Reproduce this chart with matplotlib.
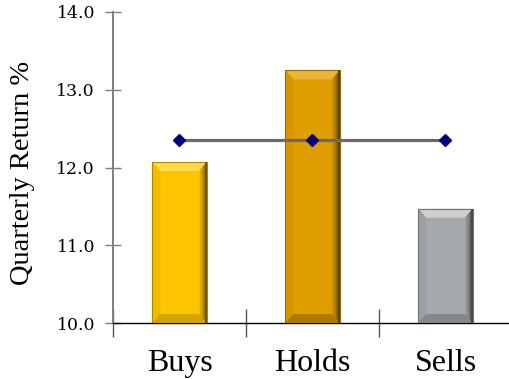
import numpy as np
import matplotlib.pyplot as plt
from matplotlib.patches import Polygon
from matplotlib.colors import to_rgb

# quarterly returns by recommendation group
groups = ["Buys", "Holds", "Sells"]
returns = [12.07, 13.25, 11.47]
average = [12.36, 12.36, 12.36]

y_ticks = [10.0, 11.0, 12.0, 13.0, 14.0]

# face colour, top, left, bottom, right-edge shade
bar_colors = [
    ("#FCC500", "#FDDC48", "#F2BC00", "#D4A400", "#6E5408"),
    ("#DF9D00", "#EAB43A", "#D69600", "#B07A00", "#5E4206"),
    ("#A6A9AC", "#CDCFD1", "#9DA0A3", "#85888B", "#45484B"),
]

W, H, DPI = 5.10, 3.79, 100
fig = plt.figure(figsize=(W, H), dpi=DPI)
ax_l, ax_b, ax_w, ax_h = 113, 56, 399, 311
ax = fig.add_axes([ax_l / 510, ax_b / 379, ax_w / 510, ax_h / 379])

x = np.arange(len(groups))
bw = 0.41
ax.set_xlim(-0.5, 2.5)
ax.set_ylim(10, 14)

bars = ax.bar(x, [r - 10 for r in returns], bottom=10, width=bw,
              color=[c[0] for c in bar_colors], linewidth=0, zorder=2)

# bevel size in data units (about 8 px)
px_x = 3.0 / ax_w
px_y = 4.0 / ax_h
bx = 8 * px_x
by = 9 * px_y


def mix(c1, c2, t):
    a = np.array(to_rgb(c1))
    b = np.array(to_rgb(c2))
    return tuple(a * (1 - t) + b * t)


for rect, (face, top, left, bottom, edge) in zip(bars, bar_colors):
    x0 = rect.get_x()
    x1 = x0 + rect.get_width()
    y0 = rect.get_y()
    y1 = y0 + rect.get_height()
    # top, left and bottom bevels
    ax.add_patch(Polygon([(x0, y1), (x1, y1), (x1 - bx, y1 - by), (x0 + bx, y1 - by)],
                         closed=True, fc=top, ec="none", zorder=3))
    ax.add_patch(Polygon([(x0, y0), (x0, y1), (x0 + bx, y1 - by), (x0 + bx, y0 + by)],
                         closed=True, fc=left, ec="none", zorder=3))
    ax.add_patch(Polygon([(x0, y0), (x1, y0), (x1 - bx, y0 + by), (x0 + bx, y0 + by)],
                         closed=True, fc=bottom, ec="none", zorder=3))
    # right bevel shaded in strips, darker toward the edge
    n = 6
    for i in range(n):
        xa = x1 - bx + bx * i / n
        xb = x1 - bx + bx * (i + 1) / n
        fa = i / n
        fb = (i + 1) / n
        ax.add_patch(Polygon([(xa, y1 - by * (1 - fa)), (xb, y1 - by * (1 - fb)),
                              (xb, y0 + by * (1 - fb)), (xa, y0 + by * (1 - fa))],
                             closed=True, fc=mix(face, edge, (i + 0.5) / n),
                             ec="none", zorder=3))
    # thin darker rim
    ax.add_patch(Polygon([(x0, y0), (x1, y0), (x1, y1), (x0, y1)], closed=True,
                         fc="none", ec=mix(face, edge, 0.55), lw=0.8, zorder=3))
    ax.add_patch(Polygon([(x1 - 1.5 * px_x, y0), (x1, y0), (x1, y1), (x1 - 1.5 * px_x, y1)],
                         closed=True, fc=edge, ec="none", zorder=3))

ax.plot(x, average, color="#6B676B", lw=2.3, marker="D", markersize=6.5,
        markerfacecolor="#00007F", markeredgecolor="#00007F", zorder=4)

for s in ("top", "right"):
    ax.spines[s].set_visible(False)
ax.spines["left"].set_color("#7F7F7F")
ax.spines["left"].set_linewidth(1.4)
ax.spines["bottom"].set_color("black")
ax.spines["bottom"].set_linewidth(1.0)

ax.set_yticks(y_ticks)
ax.set_yticklabels([f"{v:.1f}" for v in y_ticks], family="DejaVu Serif", fontsize=12.5)
ax.tick_params(axis="y", direction="inout", length=12, width=1.0, color="#7F7F7F", pad=7)

ax.set_xticks(x)
ax.set_xticklabels(groups, family="Liberation Serif", fontsize=23)
ax.tick_params(axis="x", which="major", length=0, pad=19)
ax.set_xticks([-0.5, 0.5, 1.5, 2.5], minor=True)
ax.tick_params(axis="x", which="minor", direction="inout", length=20, width=1.0, color="#555555")

fig.text(23 / 510, 1 - 173 / 379, "Quarterly Return %", rotation=90, ha="center", va="center",
         family="Liberation Serif", fontsize=20.5)

fig.savefig("out.png", dpi=DPI)
